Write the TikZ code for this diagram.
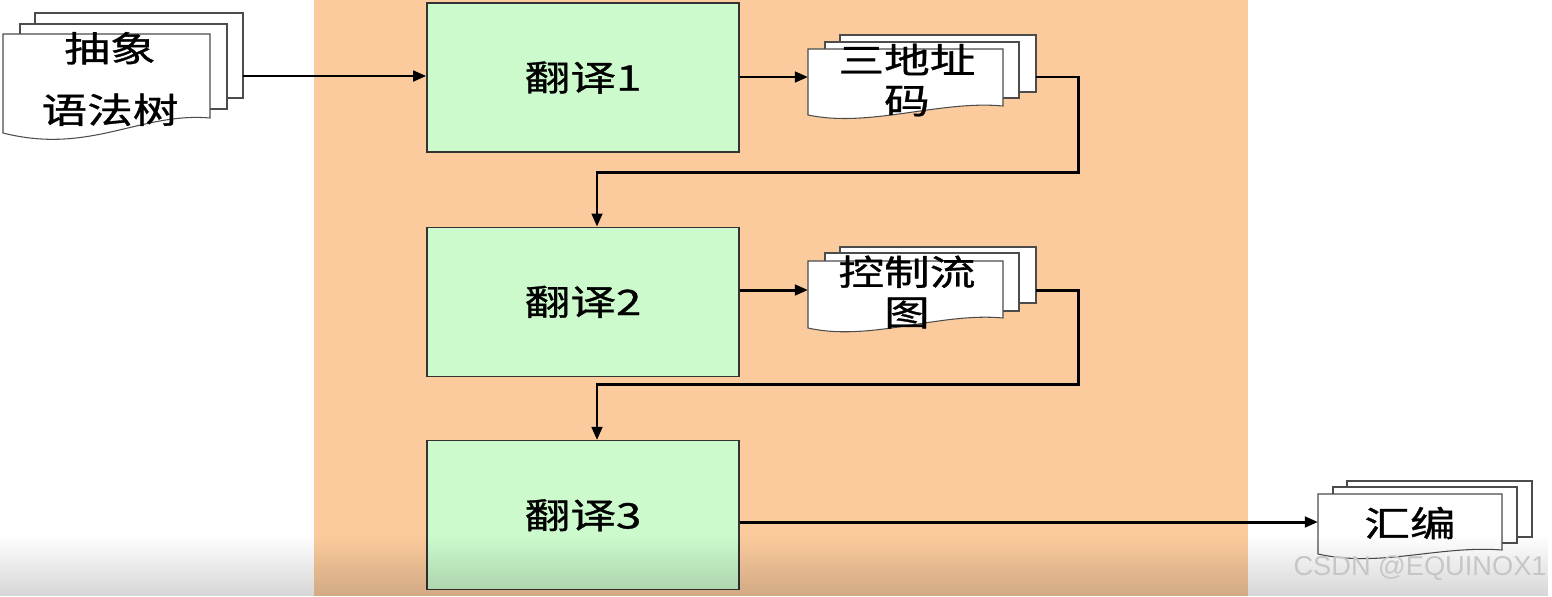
\documentclass[tikz,border=0pt]{standalone}
\usepackage{fontspec}
\newfontfamily\cjk[FakeStretch=1.3, FakeBold=1]{Noto Sans CJK SC}
\setsansfont{Liberation Sans}
\usepackage{xcolor}
\usetikzlibrary{arrows.meta, positioning, fadings}
\definecolor{peach}{RGB}{251,203,157}
\definecolor{mint}{RGB}{204,250,205}

\begin{document}
\begin{tikzpicture}[x=0.02cm, y=-0.02cm, node distance=1.4cm,
        trans/.style={rectangle, draw=black!80, line width=0.8pt, fill=mint, minimum width=6.24cm, minimum height=2.98cm, font=\cjk\fontsize{20}{24}\selectfont},
        page/.style={draw=black!70, line width=0.6pt, fill=white},
        doctext/.style={align=center, inner sep=0pt, font=\cjk\fontsize{20}{23}\selectfont},
        arrow/.style={-{Triangle[length=7.5pt, width=6pt]}, line width=1.7pt}]

        \useasboundingbox (0,0) rectangle (1552,596);

        % Fondo
        \fill[peach] (314,0) rectangle (1248,596);

        % Columna central - traducciones
        \node[trans] (tr1) at (583,77.5) {翻译1};
        \node[trans, below=1.48cm of tr1] (tr2) {翻译2};
        \node[trans, below=1.26cm of tr2] (tr3) {翻译3};

        % Documento - arbol sintactico
        \draw[page] (35,13) rectangle (243,98);
        \draw[page] (20,24) rectangle (227,109);
        \draw[page] (3,34) -- (210,34) -- (210,118) .. controls (140,112) and (90,155) .. (3,133) -- cycle;
        \node[doctext, font=\cjk\fontsize{20}{35}\selectfont] (ast) at (110,79) {抽象\\语法树};
        \coordinate (astout) at (243,76);

        % Documento - codigo de tres direcciones
        \draw[page] (840,35) rectangle (1036,92);
        \draw[page] (825,42) rectangle (1019,98);
        \draw[page] (808,49) -- (1003,49) -- (1003,106) .. controls (940,100) and (870,128) .. (808,115) -- cycle;
        \node[doctext] (tac) at (907,80) {三地址\\码};
        \coordinate (tacin) at (808,77);
        \coordinate (tacout) at (1036,77);

        % Documento - grafo de flujo
        \draw[page] (840,247) rectangle (1036,303);
        \draw[page] (825,253) rectangle (1019,311);
        \draw[page] (808,261) -- (1003,261) -- (1003,318) .. controls (940,312) and (870,342) .. (808,328) -- cycle;
        \node[doctext] (cfg) at (907,292) {控制流\\图};
        \coordinate (cfgin) at (808,290);
        \coordinate (cfgout) at (1036,290);

        % Documento - ensamblador
        \draw[page] (1347,481) rectangle (1532,537);
        \draw[page] (1333,487) rectangle (1517,543);
        \draw[page] (1318,494) -- (1502,494) -- (1502,550) .. controls (1440,545) and (1380,568) .. (1318,554) -- cycle;
        \node[doctext] (asm) at (1410,523) {汇编};
        \coordinate (asmin) at (1318,522);

        % Flechas
        \draw[arrow] (astout) -- (astout -| tr1.west);
        \draw[arrow] (tacin -| tr1.east) -- (tacin);
        \draw[arrow] (tacout) -- ++(42,0) -- ++(0,95) -| ([xshift=0.28cm]tr2.north);
        \draw[arrow] (cfgin -| tr2.east) -- (cfgin);
        \draw[arrow] (cfgout) -- ++(42,0) -- ++(0,94) -| ([xshift=0.28cm]tr3.north);
        \draw[arrow] (asmin -| tr3.east) -- (asmin);

        % Sombra inferior y marca
        \fill[black, opacity=0.16, path fading=north] (0,535) rectangle (1552,596);
        \node[anchor=east, inner sep=0pt, text=gray!45, font=\sffamily\fontsize{15.5}{16}\selectfont] (mark) at (1547,568) {CSDN @EQUINOX1};

    \end{tikzpicture}
\end{document}
